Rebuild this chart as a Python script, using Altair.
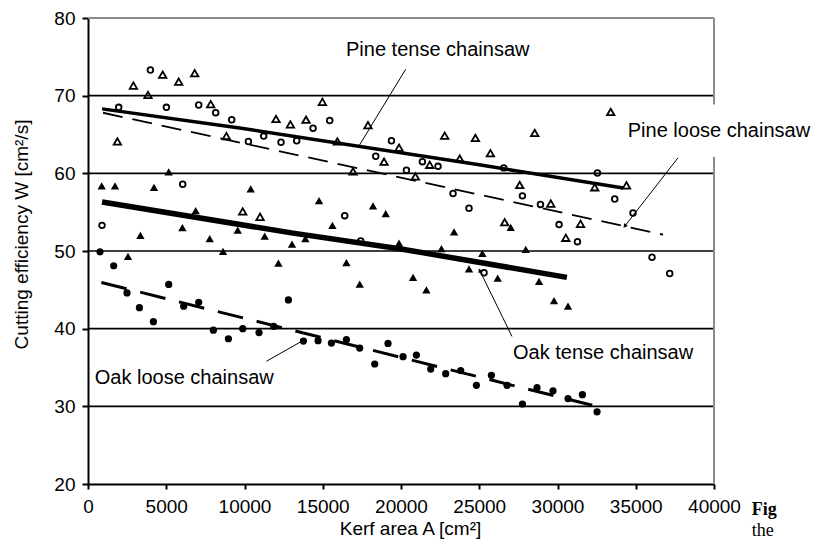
import math
import altair as alt
import pandas as pd

# ---------------- data ----------------
pine_tense_x = [1879, 2901, 3834, 4773, 5796, 6818, 7841, 8843, 9886, 10993, 12016, 12933,
                13933, 14977, 15936, 16934, 17890, 18917, 19875, 20919, 21835, 22793, 23752,
                24754, 25713, 26628, 27587, 28544, 29570, 30530, 31470, 32380, 33400, 34404]
pine_tense_y = [64.1, 71.3, 70.1, 72.7, 71.8, 72.9, 68.9, 64.8, 55.1, 54.4, 67.0, 66.3,
                66.9, 69.2, 64.1, 60.25, 66.2, 61.5, 63.3, 59.6, 61.1, 64.85, 61.9,
                64.55, 62.6, 53.7, 58.5, 65.2, 56.1, 51.7, 53.5, 58.2, 67.9, 58.45]

pine_loose_x = [895, 1962, 3987, 5010, 6051, 7074, 8160, 9183, 10250, 11227, 12333, 13336,
                14380, 15445, 16404, 17426, 18386, 19390, 20346, 21368, 22365, 23325, 24346,
                25305, 26565, 27758, 28910, 30100, 31275, 32551, 33656, 34825, 36040, 37170]
pine_loose_y = [53.3, 68.5, 73.3, 68.5, 58.6, 68.8, 67.8, 66.9, 64.1, 64.8, 64.0, 64.2,
                65.8, 66.8, 54.55, 51.3, 62.2, 64.2, 60.4, 61.5, 60.9, 57.4, 55.5,
                47.2, 60.7, 57.1, 56.0, 53.4, 51.2, 60.05, 56.7, 54.9, 49.2, 47.1]

oak_tense_x = [875, 1726, 2556, 3348, 4218, 5157, 6032, 6882, 7777, 8627, 9566, 10397,
               11291, 12166, 13036, 13890, 14764, 15617, 16512, 17362, 18212, 19023, 19875,
               20770, 21622, 22583, 23390, 24346, 25200, 26180, 27011, 27970, 28820, 29777, 30672]
oak_tense_y = [58.4, 58.4, 49.3, 52.0, 58.2, 60.2, 53.0, 55.2, 51.6, 49.95, 52.7, 58.0,
               51.9, 48.45, 50.9, 51.6, 56.5, 53.3, 48.5, 45.75, 55.8, 54.8, 51.0,
               46.6, 45.0, 50.3, 52.45, 47.7, 49.7, 46.5, 53.05, 50.2, 46.1, 43.6, 42.9]

oak_loose_x = [767, 1642, 2492, 3284, 4178, 5157, 6115, 7074, 8013, 8971, 9886, 10928,
               11866, 12805, 13764, 14700, 15553, 16512, 17362, 18321, 19170, 20130, 20983,
               21898, 22856, 23815, 24818, 25777, 26775, 27758, 28691, 29713, 30672, 31592, 32527]
oak_loose_y = [49.9, 48.1, 44.6, 42.7, 40.9, 45.7, 42.9, 43.4, 39.8, 38.7, 40.0, 39.5,
               40.3, 43.7, 38.4, 38.45, 38.15, 38.6, 37.5, 35.45, 38.1, 36.4, 36.6,
               34.8, 34.2, 34.6, 32.7, 34.0, 32.7, 30.3, 32.4, 32.0, 31.0, 31.5, 29.3]

# trend lines (vertices)
pine_tense_line_x = [900, 9800, 25000, 34200]
pine_tense_line_y = [68.3, 65.8, 61.1, 58.1]
pine_loose_line_x = [960, 36750]
pine_loose_line_y = [67.8, 52.1]
oak_tense_line_x = [900, 13100, 19900, 30600]
oak_tense_line_y = [56.3, 52.3, 50.3, 46.6]
oak_loose_line_x = [855, 32490]
oak_loose_line_y = [45.95, 30.0]

# annotations
label_text = ["Pine tense chainsaw", "Pine loose chainsaw", "Oak tense chainsaw", "Oak loose chainsaw"]
label_x = [22346, 34490, 27160, 430]
label_y = [75.9, 65.4, 36.9, 33.65]
label_align = ["center", "left", "left", "left"]
leader_x1 = [20300, 37700, 27090, 11400]
leader_y1 = [73.4, 62.0, 39.0, 35.8]
leader_x2 = [17320, 34300, 25030, 13850]
leader_y2 = [63.55, 53.2, 47.5, 38.6]
leader_arrow = [False, True, True, True]

grid_values = [30, 40, 50, 60, 70]
x_ticks = [0, 5000, 10000, 15000, 20000, 25000, 30000, 35000, 40000]
y_ticks = [20, 30, 40, 50, 60, 70, 80]

caption_text = ["Fig", "the"]
caption_x = [42411, 42411]
caption_y = [16.6, 14.0]
caption_weight = ["bold", "normal"]

# ---------------- chart ----------------
W, H = 626, 466
XMIN, XMAX, YMIN, YMAX = 0, 40000, 20, 80
FONT = "Liberation Sans"

xs = alt.Scale(domain=[XMIN, XMAX], nice=False, zero=False)
ys = alt.Scale(domain=[YMIN, YMAX], nice=False, zero=False)

common_axis = dict(
    grid=False, labelOverlap=False, labelFlush=False,
    labelFont=FONT, labelFontSize=19, labelColor="black",
    titleFont=FONT, titleFontSize=19, titleFontWeight="normal", titleColor="black",
    domainColor="black", domainWidth=2, tickColor="black", tickWidth=2,
    titleBaseline="middle", titleAlign="center")

x_enc = alt.X("x:Q", scale=xs, axis=alt.Axis(
    values=x_ticks, format="d", title="Kerf area A [cm²]",
    tickSize=5, labelPadding=8, titleX=322, titleY=44, **common_axis))
y_enc = alt.Y("y:Q", scale=ys, axis=alt.Axis(
    values=y_ticks, title="Cutting efficiency W [cm²/s]",
    tickSize=6, labelPadding=7, titleX=-67, titleY=216, titleAngle=270, **common_axis))

grid_df = pd.DataFrame({"y": grid_values, "x": XMIN, "x2": XMAX})
grid = alt.Chart(grid_df).mark_rule(color="black", strokeWidth=1.6).encode(
    x=x_enc, x2="x2:Q", y=y_enc)

top_df = pd.DataFrame({"y": [YMAX], "x": [XMIN], "x2": [XMAX]})
top = alt.Chart(top_df).mark_rule(color="#8c8c8c", strokeWidth=2).encode(
    x=x_enc, x2="x2:Q", y=y_enc)
right_df = pd.DataFrame({"x": [XMAX], "y": [YMIN], "y2": [YMAX]})
right = alt.Chart(right_df).mark_rule(color="#8c8c8c", strokeWidth=2).encode(
    x=x_enc, y=y_enc, y2="y2:Q")

# white box behind "Pine loose chainsaw"
box_df = pd.DataFrame({"x": [33970], "x2": [46690], "y": [62.15], "y2": [68.85]})
box = alt.Chart(box_df).mark_rect(color="white").encode(
    x=x_enc, x2="x2:Q", y=y_enc, y2="y2:Q")


def pts(xv, yv):
    return pd.DataFrame({"x": xv, "y": yv})


p_pt = alt.Chart(pts(pine_tense_x, pine_tense_y)).mark_point(
    shape="triangle-up", filled=False, color="black", strokeWidth=1.8, size=55, opacity=1
).encode(x=x_enc, y=y_enc)
p_pl = alt.Chart(pts(pine_loose_x, pine_loose_y)).mark_point(
    shape="circle", filled=False, color="black", strokeWidth=1.8, size=32, opacity=1
).encode(x=x_enc, y=y_enc)
p_ot = alt.Chart(pts(oak_tense_x, oak_tense_y)).mark_point(
    shape="triangle-up", filled=True, color="black", size=70, opacity=1
).encode(x=x_enc, y=y_enc)
p_ol = alt.Chart(pts(oak_loose_x, oak_loose_y)).mark_point(
    shape="circle", filled=True, color="black", size=52, opacity=1
).encode(x=x_enc, y=y_enc)

l_pt = alt.Chart(pts(pine_tense_line_x, pine_tense_line_y)).mark_line(
    color="black", strokeWidth=3.5).encode(x=x_enc, y=y_enc)
l_pl = alt.Chart(pts(pine_loose_line_x, pine_loose_line_y)).mark_line(
    color="black", strokeWidth=1.8, strokeDash=[20, 10]).encode(x=x_enc, y=y_enc)
l_ot = alt.Chart(pts(oak_tense_line_x, oak_tense_line_y)).mark_line(
    color="black", strokeWidth=5.5).encode(x=x_enc, y=y_enc)
l_ol = alt.Chart(pts(oak_loose_line_x, oak_loose_line_y)).mark_line(
    color="black", strokeWidth=3, strokeDash=[26, 14]).encode(x=x_enc, y=y_enc)

lead_df = pd.DataFrame({"x": leader_x1, "y": leader_y1, "x2": leader_x2, "y2": leader_y2})
leaders = alt.Chart(lead_df).mark_rule(color="black", strokeWidth=1).encode(
    x=x_enc, y=y_enc, x2="x2:Q", y2="y2:Q")

arr_rows = []
for a, x1, y1, x2, y2 in zip(leader_arrow, leader_x1, leader_y1, leader_x2, leader_y2):
    if not a:
        continue
    dx = (x2 - x1) * W / (XMAX - XMIN)
    dy = -(y2 - y1) * H / (YMAX - YMIN)
    ang = (math.degrees(math.atan2(dy, dx)) + 90) % 360
    arr_rows.append({"x": x2, "y": y2, "angle": ang})
arrows = alt.Chart(pd.DataFrame(arr_rows)).mark_point(
    shape="triangle-up", filled=True, color="black", size=22, opacity=1
).encode(x=x_enc, y=y_enc, angle=alt.Angle("angle:Q", scale=None))

lab_df = pd.DataFrame({"x": label_x, "y": label_y, "t": label_text, "al": label_align})
labels_c = alt.Chart(lab_df[lab_df.al == "center"]).mark_text(
    font=FONT, fontSize=20, align="center", baseline="middle", color="black"
).encode(x=x_enc, y=y_enc, text="t:N")
labels_l = alt.Chart(lab_df[lab_df.al == "left"]).mark_text(
    font=FONT, fontSize=20, align="left", baseline="middle", color="black"
).encode(x=x_enc, y=y_enc, text="t:N")

cap_df = pd.DataFrame({"x": caption_x, "y": caption_y, "t": caption_text, "w": caption_weight})
cap_b = alt.Chart(cap_df[cap_df.w == "bold"]).mark_text(
    font="Liberation Serif", fontSize=18, fontWeight="bold", align="left",
    baseline="middle", color="black").encode(x=x_enc, y=y_enc, text="t:N")
cap_n = alt.Chart(cap_df[cap_df.w == "normal"]).mark_text(
    font="Liberation Serif", fontSize=18, align="left",
    baseline="middle", color="black").encode(x=x_enc, y=y_enc, text="t:N")

chart = alt.layer(
    grid, top, right, box, p_pt, p_pl, p_ot, p_ol, l_pt, l_pl, l_ot, l_ol,
    leaders, arrows, labels_c, labels_l, cap_b, cap_n
).properties(
    width=W, height=H,
    autosize=alt.AutoSizeParams(type="none"),
    padding={"left": 80, "top": 10, "right": 97, "bottom": 57},
    background="white",
).configure_view(stroke=None)

chart.save("out.html", embed_options={"renderer": "svg", "actions": False})
